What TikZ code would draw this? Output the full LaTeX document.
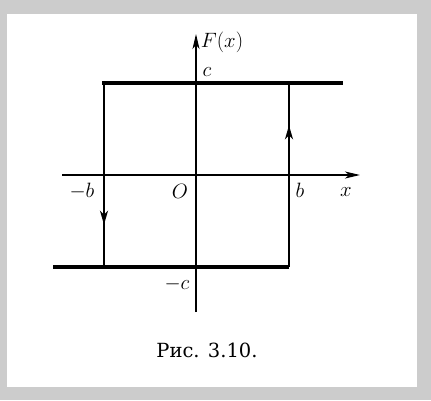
\documentclass[tikz,border=0pt]{standalone}
\usepackage{fontspec}
\newfontfamily\cyrfont{DejaVu Serif}
\usetikzlibrary{arrows.meta,decorations.markings}

\tikzset{
axisline/.style={line width=1.5pt, -{Stealth[length=15pt,width=7pt,inset=4pt]}},
branch/.style={line width=3.4pt},
jumpline/.style={line width=2pt,
  decoration={markings, mark=at position #1 with {\arrow{Stealth[length=14pt,width=8pt,inset=4pt]}}},
  postaction=decorate},
lbl/.style={font=\fontsize{20}{24}\selectfont},
}

\begin{document}
\begin{tikzpicture}[x=1pt,y=-1pt]
% page and scan shadow
\fill[black!20] (0,0) rectangle (431,400);
\fill[white] (7,14) rectangle (417,387);
\useasboundingbox (0,0) rectangle (431,400);

% points of the loop
\coordinate (xl) at (62,175);
\coordinate (xr) at (360,175);
\coordinate (yb) at (196,312);
\coordinate (yt) at (196,34);
\coordinate (tl) at (102,83);
\coordinate (tr) at (343,83);
\coordinate (bl) at (53,267);
\coordinate (br) at (289,267);
\coordinate (lt) at (104,83);
\coordinate (lb) at (104,267);
\coordinate (rt) at (289,83);

% axes
\draw[axisline] (xl) -- (xr);
\draw[axisline] (yb) -- (yt);

% loop
\draw[branch] (tl) -- (tr);
\draw[branch] (bl) -- (br);
\draw[jumpline=0.77] (lt) -- (lb);
\draw[jumpline=0.77] (br) -- (rt);

% labels
\node[lbl] (fx) at (222,42) {$F(x)$};
\node[lbl] (cp) at (207,72) {$c$};
\node[lbl] (cm) at (177,284) {$-c$};
\node[lbl] (bm) at (82,191) {$-b$};
\node[lbl] (org) at (180,191) {$O$};
\node[lbl] (bp) at (300,190) {$b$};
\node[lbl] (xx) at (346,192) {$x$};
\node[font=\cyrfont\fontsize{19.5}{23}\selectfont] (cap) at (207,350) {Рис. 3.10.};
\end{tikzpicture}
\end{document}
